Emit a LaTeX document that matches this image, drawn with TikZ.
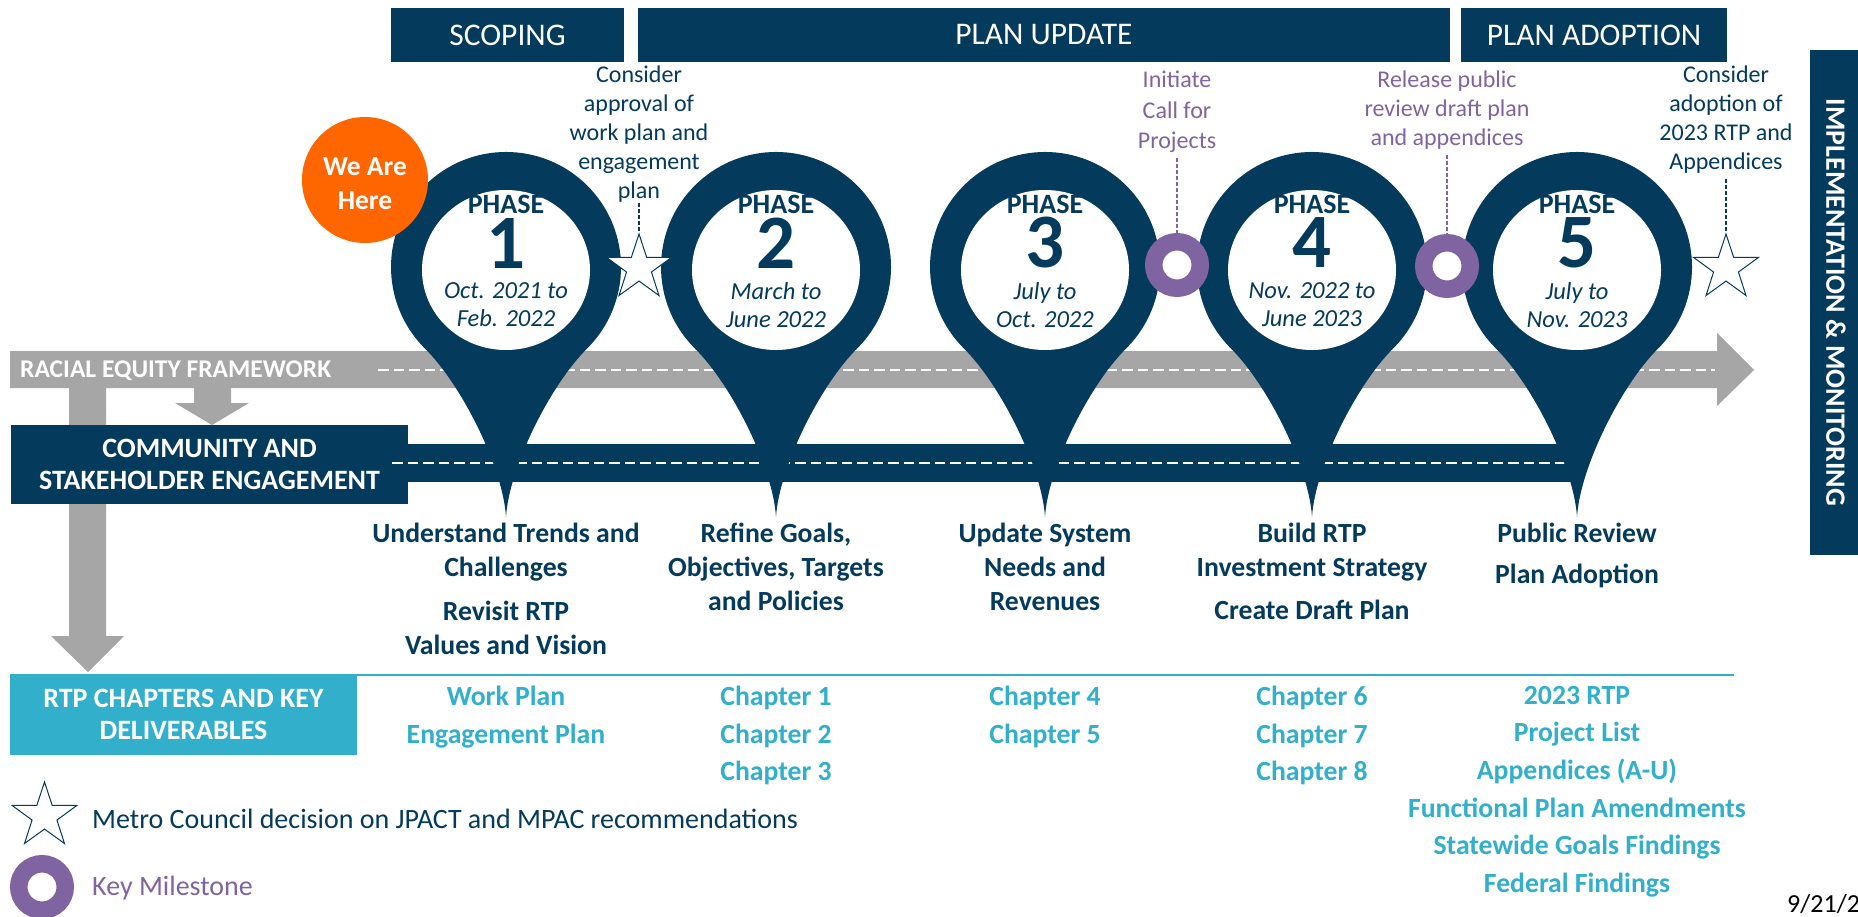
\documentclass[tikz,border=0pt]{standalone}
\usepackage{fontspec}
\setmainfont{Carlito}
\usetikzlibrary{shapes.geometric}
\definecolor{navy}{HTML}{043A5B}
\definecolor{tealc}{HTML}{31AFCB}
\definecolor{grayc}{HTML}{A6A6A6}
\definecolor{kpurple}{HTML}{8064A2}
\definecolor{orng}{HTML}{FF6600}
\newcommand\fsz[2]{\fontsize{#1pt}{#2pt}\selectfont}
\newcommand\drawpin[1]{%
  \fill[navy] (#1,517) .. controls ({#1-3},467) and ({#1-45},384) .. ({#1-81.3},348.3)
    arc[start angle=135,end angle=405,radius=115]
    .. controls ({#1+45},384) and ({#1+3},467) .. (#1,517) -- cycle;
  \fill[white] (#1,270) ellipse [x radius=84, y radius=80];}
\begin{document}
\begin{tikzpicture}[x=1pt,y=-1pt,
  hdr/.style={fill=navy, text=white, font=\fsz{31.5}{37}, inner sep=0, minimum height=54pt},
  ann/.style={text=navy, font=\fsz{24}{29}, align=center, anchor=north, inner sep=0},
  annp/.style={ann, text=kpurple},
  phasetxt/.style={text=navy, font=\bfseries\fsz{28}{30}, inner sep=0},
  digit/.style={text=navy, font=\bfseries\fsz{77}{80}, inner sep=0},
  datetxt/.style={text=navy, font=\itshape\fsz{24.5}{28}, align=center, anchor=north, inner sep=0},
  act/.style={text=navy, font=\bfseries\fsz{27.7}{34}, align=center, anchor=north, inner sep=0},
  deliv/.style={text=tealc, font=\bfseries\fsz{27.7}{37.6}, align=center, anchor=north, inner sep=0},
  starnode/.style={star, star points=5, star point ratio=2.6, minimum size=68pt, inner sep=0pt, draw=navy, line width=1pt, fill=white},
  ringnode/.style={circle, draw=kpurple, line width=17.5pt, fill=white, minimum size=46.5pt, inner sep=0pt},
  dashnavy/.style={draw=navy, line width=1.2pt, dash pattern=on 4pt off 2pt},
  dashpurple/.style={draw=kpurple, line width=1.2pt, dash pattern=on 4pt off 2pt},
  whitedash/.style={draw=white, line width=2.5pt, dash pattern=on 10.5pt off 5pt}
]
\path[use as bounding box] (0,0) rectangle (1858,917);
\fill[white] (0,0) rectangle (1858,917);

% top headers
\node[hdr, minimum width=233pt] (scoping) at (507.5,35) {SCOPING};
\node[hdr, minimum width=812pt] (update) at (1044,35) {PLAN UPDATE};
\node[hdr, minimum width=266pt] (adopt) at (1594,35) {PLAN ADOPTION};

% implementation box
\node[fill=navy, text=white, rotate=-90, minimum width=505pt, minimum height=52pt, inner sep=0,
  font=\bfseries\fsz{28}{30}] (impl) at (1836,302.5) {IMPLEMENTATION \& MONITORING};

% racial equity band (arrow)
\fill[grayc] (10,351) -- (1717,351) -- (1717,333) -- (1754,370) -- (1717,406) -- (1717,388) -- (10,388) -- cycle;
\node[anchor=base west, text=white, font=\bfseries\fsz{25.5}{30}, inner sep=0] (ref) at (20,377) {RACIAL EQUITY FRAMEWORK};
\path[whitedash] (378,370) -- (1715,370);

% vertical gray arrows
\fill[grayc] (69,388) -- (106,388) -- (106,636) -- (124,636) -- (88,672) -- (51,636) -- (69,636) -- cycle;
\fill[grayc] (194,388) -- (231,388) -- (231,403) -- (249,403) -- (212,425) -- (175,403) -- (194,403) -- cycle;

% community band
\fill[navy] (400,444) rectangle (1577,482);
\node[fill=navy, text=white, align=center, minimum width=397pt, minimum height=79pt, inner sep=0,
  font=\bfseries\fsz{28}{32}] (comm) at (209.5,464.5) {COMMUNITY AND\\STAKEHOLDER ENGAGEMENT};
\path[whitedash] (392,463) -- (1577,463);

% RTP chapters row
\draw[tealc, line width=2pt] (357,675) -- (1734,675);
\node[fill=tealc, text=white, align=center, minimum width=347pt, minimum height=81pt, inner sep=0,
  font=\bfseries\fsz{28}{32}] (rtp) at (183.5,714.5) {RTP CHAPTERS AND KEY\\DELIVERABLES};

% pins
\drawpin{506}
\drawpin{776}
\drawpin{1045}
\drawpin{1312}
\drawpin{1577}

% pin texts
\node[phasetxt] (ph1) at (506,204.5) {PHASE};
\node[digit] (d1) at (506,243) {1};
\node[datetxt] (dt1) at (506,282) {Oct. 2021 to\\Feb. 2022};
\node[phasetxt] (ph2) at (776,204.5) {PHASE};
\node[digit] (d2) at (776,243) {2};
\node[datetxt] (dt2) at (776,282) {March to\\June 2022};
\node[phasetxt] (ph3) at (1045,204.5) {PHASE};
\node[digit] (d3) at (1045,243) {3};
\node[datetxt] (dt3) at (1045,282) {July to\\Oct. 2022};
\node[phasetxt] (ph4) at (1312,204.5) {PHASE};
\node[digit] (d4) at (1312,243) {4};
\node[datetxt] (dt4) at (1312,282) {Nov. 2022 to\\June 2023};
\node[phasetxt] (ph5) at (1577,204.5) {PHASE};
\node[digit] (d5) at (1577,243) {5};
\node[datetxt] (dt5) at (1577,282) {July to\\Nov. 2023};

% we are here
\node[circle, fill=orng, minimum size=126pt, inner sep=0] (here) at (365,180) {};
\node[text=white, font=\bfseries\fsz{27.5}{34}, align=center, anchor=north, inner sep=0] (heretxt) at (365,157) {We Are\\Here};

% milestones
\node[starnode] (s1) at (639,268) {};
\node[starnode] (s2) at (1726,268) {};
\node[ringnode] (m1) at (1177,265) {};
\node[ringnode] (m2) at (1447,266) {};

\node[ann] (a1) at (639,66) {Consider\\approval of\\work plan and\\engagement\\plan};
\node[ann] (a2) at (1726,66) {Consider\\adoption of\\2023 RTP and\\Appendices};
\node[annp, font=\fsz{24}{30.5}] (a3) at (1177,71) {Initiate\\Call for\\Projects};
\node[annp] (a4) at (1447,71) {Release public\\review draft plan\\and appendices};
\draw[dashnavy] (a1.south) -- (s1.north);
\draw[dashnavy, shorten <=5pt] (a2.south) -- (s2.north);
\draw[dashpurple, shorten <=5pt] (a3.south) -- (m1.north);
\draw[dashpurple, shorten <=5pt] (a4.south) -- (m2.north);

% activities
\node[act] (t1a) at (506,523) {Understand Trends and\\Challenges};
\node[act] (t1b) at (506,601) {Revisit RTP\\Values and Vision};
\node[act] (t2) at (776,522.5) {Refine Goals,\\Objectives, Targets\\and Policies};
\node[act] (t3) at (1045,523) {Update System\\Needs and\\Revenues};
\node[act] (t4a) at (1312,523) {Build RTP\\Investment Strategy};
\node[act] (t4b) at (1312,600) {Create Draft Plan};
\node[act] (t5a) at (1577,523) {Public Review};
\node[act] (t5b) at (1577,564) {Plan Adoption};

% deliverables
\node[deliv] (v1) at (506,686) {Work Plan\\Engagement Plan};
\node[deliv] (v2) at (776,686) {Chapter 1\\Chapter 2\\Chapter 3};
\node[deliv] (v3) at (1045,686) {Chapter 4\\Chapter 5};
\node[deliv] (v4) at (1312,686) {Chapter 6\\Chapter 7\\Chapter 8};
\node[deliv] (v5) at (1577,686) {2023 RTP\\Project List\\Appendices (A-U)\\Functional Plan Amendments\\Statewide Goals Findings\\Federal Findings};

% legend
\node[starnode] (ls) at (44.5,816) {};
\node[anchor=base west, text=navy, font=\fsz{28}{32}, inner sep=0] (lg1) at (92,828) {Metro Council decision on JPACT and MPAC recommendations};
\node[ringnode] (lr) at (42,887) {};
\node[anchor=base west, text=kpurple, font=\fsz{28}{32}, inner sep=0] (lg2) at (92,895) {Key Milestone};

% date
\node[anchor=base west, text=black, font=\fsz{26}{30}, inner sep=0] (dt) at (1787,912) {9/21/2};
\end{tikzpicture}
\end{document}
